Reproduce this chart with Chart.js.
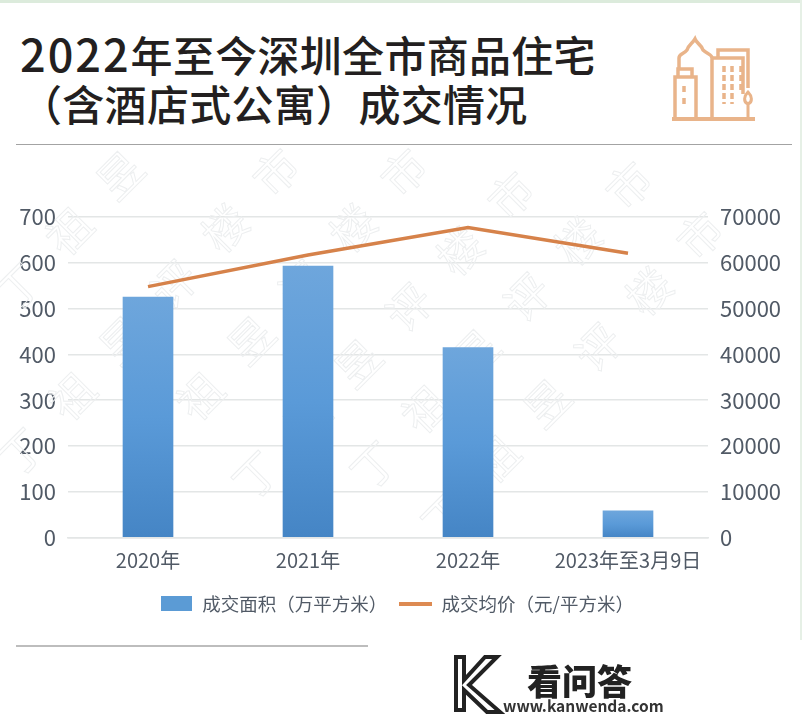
<!DOCTYPE html>
<html lang="zh">
<head>
<meta charset="utf-8">
<title>2022年至今深圳全市商品住宅成交情况</title>
<script src="https://cdn.jsdelivr.net/npm/chart.js@4"></script>
<style>
html, body { margin: 0; padding: 0; background: #fff; }
body { width: 802px; height: 716px; position: relative; overflow: hidden; font-family: "Noto Sans CJK SC", "Noto Sans", sans-serif; }
#topstrip { position: absolute; left: 0; top: 0; width: 802px; height: 3px; background: #dcebdc; }
#sidestrip { position: absolute; left: 800px; top: 0; width: 2px; height: 640px; background: #e6f0e6; }
.title { position: absolute; left: 20px; font-size: 42px; line-height: 50px; font-weight: 500; color: #231f20; white-space: nowrap; letter-spacing: 0.3px; }
.title .num { font-size: 45px; letter-spacing: 2px; }
.rule { position: absolute; left: 16px; background: #a3a3a3; }
#chartbox { position: absolute; left: 0; top: 0; width: 802px; height: 716px; }
#brand { position: absolute; left: 527px; top: 659px; font-size: 35px; line-height: 42px; font-weight: 900; color: #222; }
#site { position: absolute; left: 503px; top: 696px; font-size: 15.5px; line-height: 18px; font-weight: 700; color: #333; }
#icon { position: absolute; left: 668px; top: 34px; }
#klogo { position: absolute; left: 453px; top: 654px; }
</style>
</head>
<body>
<div id="topstrip"></div>
<div id="sidestrip"></div>
<div class="title" style="top:28px"><span class="num">2022</span>年至今深圳全市商品住宅</div>
<div class="title" style="top:78px">（含酒店式公寓）成交情况</div>
<svg id="icon" width="92" height="92" viewBox="0 0 92 92" fill="none" stroke="#e9b48a" stroke-width="3.5">
  <path d="M4 85H87" stroke-width="4"/>
  <path d="M7 85V43H28V85"/><path d="M10 43V35H24V43"/>
  <path d="M11 35V24C11 20 16 20 19 16C21 10 24 10 27 5C29 10 33 10 35 16C39 20 44 20 44 24V85"/>
  <path d="M44 24H75V60"/><path d="M50 24V16H80V24"/><path d="M80 24V54M44 85H76"/>
  <path d="M80 83V70M80 58C76 62 75 68 80 70C85 68 84 62 80 58Z" stroke-width="3"/>
  <path d="M16 52V58M16 64V70M56 32V70M64 32V70M73 32V58" stroke-dasharray="6 3"/>
</svg>
<div class="rule" style="top:144px;width:776px;height:1px"></div>
<div id="chartbox"><canvas id="chart" width="802" height="716"></canvas></div>
<div class="rule" style="top:645px;width:352px;height:2px;background:#bdbdbd"></div>
<svg id="klogo" width="52" height="60" viewBox="0 0 52 60" fill="none" stroke="#222" stroke-width="4">
  <path d="M3 3H11V26L32 3H44L16 31L47 58H34L11 36V56H3Z"/>
</svg>
<div id="brand">看问答</div>
<div id="site">www.kanwenda.com</div>
<script>
var categories = ['2020年', '2021年', '2022年', '2023年至3月9日'];
var areaLabel = '成交面积（万平方米）';
var priceLabel = '成交均价（元/平方米）';
var areaValues = [525, 593, 415, 58];
var priceValues = [54800, 61700, 67700, 62100];
var watermarkText = '市楼评昱祖丁';

var fontFamily = '"Noto Sans CJK SC", "Noto Sans", sans-serif';
var tickColor = '#515a66';

function swatch(w, h, color) {
    var c = document.createElement('canvas');
    c.width = w;
    c.height = h;
    var g = c.getContext('2d');
    g.fillStyle = color;
    g.fillRect(0, 0, w, h);
    return c;
}

var barSwatch = swatch(31, 15, '#5b9bd5');
var lineSwatch = swatch(33, 4, '#dd8a52');

// faint diagonal watermark behind the marks, each line starts at its 市
var watermark = {
    id: 'watermark',
    beforeDatasetsDraw: function (chart) {
        var ctx = chart.ctx;
        var starts = [[273, 7], [276, 172], [404, 172], [511, 195], [629, 185], [700, 235]];
        ctx.save();
        ctx.beginPath();
        ctx.rect(0, 146, 802, 404);
        ctx.clip();
        ctx.strokeStyle = '#edeff0';
        ctx.lineWidth = 1;
        ctx.font = '44px ' + fontFamily;
        ctx.textAlign = 'center';
        ctx.textBaseline = 'middle';
        starts.forEach(function (p) {
            for (var i = 0; i < watermarkText.length; i++) {
                ctx.save();
                ctx.translate(p[0] - i * 51, p[1] + i * 56);
                ctx.rotate(-Math.PI / 4);
                ctx.strokeText(watermarkText[i], 0, 0);
                ctx.restore();
            }
        });
        ctx.restore();
    }
};

new Chart(document.getElementById('chart'), {
    data: {
        labels: categories,
        datasets: [{
            type: 'line',
            label: priceLabel,
            data: priceValues,
            yAxisID: 'y1',
            order: 0,
            borderColor: '#d6824a',
            borderWidth: 3.5,
            pointRadius: 0,
            tension: 0
        }, {
            type: 'bar',
            label: areaLabel,
            data: areaValues,
            yAxisID: 'y',
            order: 1,
            barThickness: 50,
            backgroundColor: function (context) {
                var chart = context.chart;
                if (!chart.chartArea || !context.parsed) return '#5b9bd5';
                var scale = chart.scales.y;
                var grad = chart.ctx.createLinearGradient(0, scale.getPixelForValue(context.parsed.y), 0, scale.getPixelForValue(0));
                grad.addColorStop(0, '#6ea6dc');
                grad.addColorStop(0.5, '#5a9ad8');
                grad.addColorStop(1, '#4585c5');
                return grad;
            }
        }]
    },
    options: {
        responsive: false,
        animation: false,
        layout: { padding: { top: 217, bottom: 93, right: 8 } },
        plugins: {
            title: { display: false },
            tooltip: { enabled: false },
            legend: {
                position: 'bottom',
                reverse: true,
                labels: {
                    usePointStyle: true,
                    pointStyleWidth: 33,
                    color: tickColor,
                    font: { family: fontFamily, size: 18.5 },
                    padding: 12,
                    generateLabels: function (chart) {
                        var items = Chart.defaults.plugins.legend.labels.generateLabels(chart);
                        items.forEach(function (it) {
                            it.pointStyle = it.text === areaLabel ? barSwatch : lineSwatch;
                        });
                        return items;
                    }
                }
            }
        },
        scales: {
            x: {
                afterFit: function (axis) { axis.height += 7; },
                grid: { display: false },
                border: { color: '#e3e6e6', width: 1.5 },
                ticks: { color: tickColor, font: { family: fontFamily, size: 20 }, padding: 3, maxRotation: 0, autoSkip: false }
            },
            y: {
                position: 'left',
                min: 0,
                max: 700,
                afterFit: function (axis) { axis.width = 68; },
                grid: { color: '#e3e6e6', lineWidth: 1.5, drawTicks: false },
                border: { display: false },
                ticks: { stepSize: 100, color: tickColor, font: { family: fontFamily, size: 22 }, padding: 12 }
            },
            y1: {
                position: 'right',
                min: 0,
                max: 70000,
                afterFit: function (axis) { axis.width = 86; },
                grid: { display: false, drawTicks: false },
                border: { display: false },
                ticks: {
                    stepSize: 10000,
                    color: tickColor,
                    font: { family: fontFamily, size: 22 },
                    padding: 12,
                    callback: function (value) { return String(value); }
                }
            }
        }
    },
    plugins: [watermark]
});
</script>
</body>
</html>
